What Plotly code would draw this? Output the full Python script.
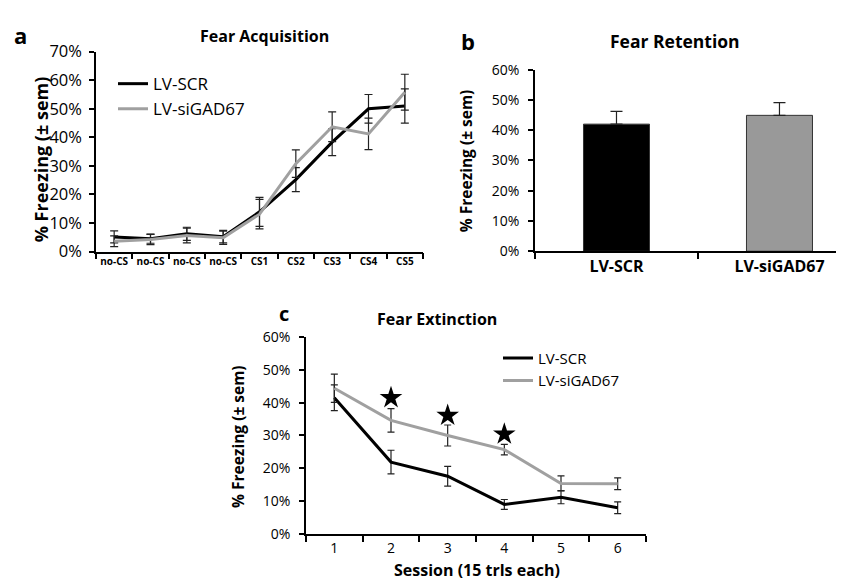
import plotly.graph_objects as go

# ---------------- data ----------------
acq_labels = ["no-CS", "no-CS", "no-CS", "no-CS", "CS1", "CS2", "CS3", "CS4", "CS5"]
acq_scr = [5.1, 4.5, 6.2, 5.2, 13.9, 25.2, 38.3, 50.0, 51.0]
acq_scr_err = [2.1, 1.6, 2.3, 2.2, 5.1, 4.2, 4.7, 5.0, 6.0]
acq_gad = [3.6, 4.2, 5.6, 4.8, 13.1, 30.8, 43.7, 41.2, 55.8]
acq_gad_err = [1.9, 1.8, 2.6, 2.3, 5.2, 4.8, 5.2, 5.5, 6.3]

ret_labels = ["LV-SCR", "LV-siGAD67"]
ret_vals = [42.0, 44.9]
ret_err = [4.2, 4.2]

ext_sessions = ["1", "2", "3", "4", "5", "6"]
ext_scr = [41.5, 21.9, 17.6, 9.0, 11.2, 8.0]
ext_scr_err = [3.9, 3.6, 3.0, 1.5, 2.0, 1.8]
ext_gad = [44.4, 34.6, 30.0, 25.7, 15.4, 15.3]
ext_gad_err = [4.3, 3.6, 3.2, 1.6, 2.3, 1.8]
star_sessions = [1, 2, 3]          # index positions (sessions 2,3,4)
star_y = [41.5, 36.1, 30.4]

FONT = "Open Sans"
BLACK = "#000000"
GRAY = "#a0a0a0"
W, H = 844, 585

def px_x(p):
    return p / W

def px_y(p):
    return 1 - p / H

fig = go.Figure()

# ---------------- panel a ----------------
xa = list(range(len(acq_labels)))
fig.add_trace(go.Scatter(
    x=xa, y=acq_scr, mode="lines", name="LV-SCR",
    line=dict(color=BLACK, width=3),
    error_y=dict(type="data", array=acq_scr_err, color="#222222", thickness=1.2, width=4),
    xaxis="x", yaxis="y", legend="legend"))
fig.add_trace(go.Scatter(
    x=xa, y=acq_gad, mode="lines", name="LV-siGAD67",
    line=dict(color=GRAY, width=3),
    error_y=dict(type="data", array=acq_gad_err, color="#222222", thickness=1.2, width=4),
    xaxis="x", yaxis="y", legend="legend"))

# ---------------- panel b ----------------
xb = list(range(len(ret_labels)))
fig.add_trace(go.Bar(
    x=xb, y=ret_vals, width=0.405,
    marker=dict(color=[BLACK, "#999999"], line=dict(color="#333333", width=1)),
    error_y=dict(type="data", symmetric=False, array=ret_err, arrayminus=[0, 0],
                 color="#222222", thickness=1.2, width=6),
    showlegend=False, xaxis="x2", yaxis="y2"))

# ---------------- panel c ----------------
xc = list(range(len(ext_sessions)))
fig.add_trace(go.Scatter(
    x=xc, y=ext_scr, mode="lines", name="LV-SCR",
    line=dict(color=BLACK, width=3),
    error_y=dict(type="data", array=ext_scr_err, color="#222222", thickness=1.2, width=3.5),
    xaxis="x3", yaxis="y3", legend="legend2"))
fig.add_trace(go.Scatter(
    x=xc, y=ext_gad, mode="lines", name="LV-siGAD67",
    line=dict(color=GRAY, width=3),
    error_y=dict(type="data", array=ext_gad_err, color="#222222", thickness=1.2, width=3.5),
    xaxis="x3", yaxis="y3", legend="legend2"))
fig.add_trace(go.Scatter(
    x=star_sessions, y=star_y, mode="markers",
    marker=dict(symbol="star", size=17, color=BLACK),
    showlegend=False, xaxis="x3", yaxis="y3"))

axis_common = dict(showline=True, linecolor=BLACK, linewidth=1.5, showgrid=False,
                   zeroline=False, ticks="outside", tickcolor=BLACK, ticklen=5, tickwidth=1.5)

def xcat(domain, n, labels, rng, fsize, bold):
    return dict(
        domain=domain, range=rng, tickmode="array", tickvals=list(range(n)),
        ticktext=[f"<b>{t}</b>" if bold else t for t in labels],
        showline=True, linecolor=BLACK, linewidth=1.5, showgrid=False, zeroline=False,
        ticks="", tickfont=dict(family=FONT, size=fsize, color=BLACK),
        minor=dict(tickmode="array", tickvals=[i - 0.5 for i in range(n + 1)],
                   ticks="outside", ticklen=6, tickcolor=BLACK, tickwidth=1.5),
        fixedrange=True)

layout = dict(
    width=W, height=H, margin=dict(l=0, r=0, t=0, b=0),
    plot_bgcolor="white", paper_bgcolor="white",
    font=dict(family=FONT, color=BLACK),
    xaxis=xcat([px_x(88), px_x(415)], 9, acq_labels, [-0.5, 8.5], 10, True),
    yaxis=dict(domain=[px_y(241), px_y(33)], range=[0, 70], dtick=10, ticksuffix="%",
               tickfont=dict(family=FONT, size=16.5), ticklabelstandoff=4,
               anchor="x", **axis_common),
    xaxis2=xcat([px_x(527), 1.0], 2, ret_labels, [-0.5, 1.445], 16, True),
    yaxis2=dict(domain=[px_y(240.7), px_y(51.7)], range=[0, 60], dtick=10, ticksuffix="%",
                tickfont=dict(family=FONT, size=14), ticklabelstandoff=6,
                anchor="x2", **axis_common),
    xaxis3=xcat([px_x(298), px_x(638)], 6, ext_sessions, [-0.5, 5.5], 14, False),
    yaxis3=dict(domain=[px_y(535), px_y(330)], range=[0, 60], dtick=10, ticksuffix="%",
                tickfont=dict(family=FONT, size=14), ticklabelstandoff=6,
                anchor="x3", **axis_common),
    legend=dict(x=px_x(105), y=px_y(48), xanchor="left", yanchor="top",
                bgcolor="rgba(0,0,0,0)", font=dict(family=FONT, size=17, color=BLACK),
                tracegroupgap=0),
    legend2=dict(x=px_x(490), y=px_y(335), xanchor="left", yanchor="top",
                 bgcolor="rgba(0,0,0,0)", font=dict(family=FONT, size=15, color=BLACK),
                 tracegroupgap=0),
    showlegend=True,
)
layout["xaxis"]["anchor"] = "y"
layout["xaxis2"]["anchor"] = "y2"
layout["xaxis3"]["anchor"] = "y3"
fig.update_layout(**layout)

def ann(text, x, y, size, bold=True, angle=0):
    fig.add_annotation(text=f"<b>{text}</b>" if bold else text, x=px_x(x), y=px_y(y),
                       xref="paper", yref="paper", showarrow=False, textangle=angle,
                       font=dict(family=FONT, size=size, color=BLACK),
                       xanchor="center", yanchor="middle")

ann("a", 12, 16, 22)
ann("b", 460, 22, 22)
ann("c", 276, 306, 20)
ann("Fear Acquisition", 256, 17, 16)
ann("Fear Retention", 667, 22, 17.5)
ann("Fear Extinction", 429, 311, 16)
ann("% Freezing (± sem)", 33, 145, 18, angle=-90)
ann("% Freezing (± sem)", 458, 147, 15.5, angle=-90)
ann("% Freezing (± sem)", 230, 433, 15.5, angle=-90)
ann("Session (15 trls each)", 469, 573, 16)

fig.write_html("out.html")
